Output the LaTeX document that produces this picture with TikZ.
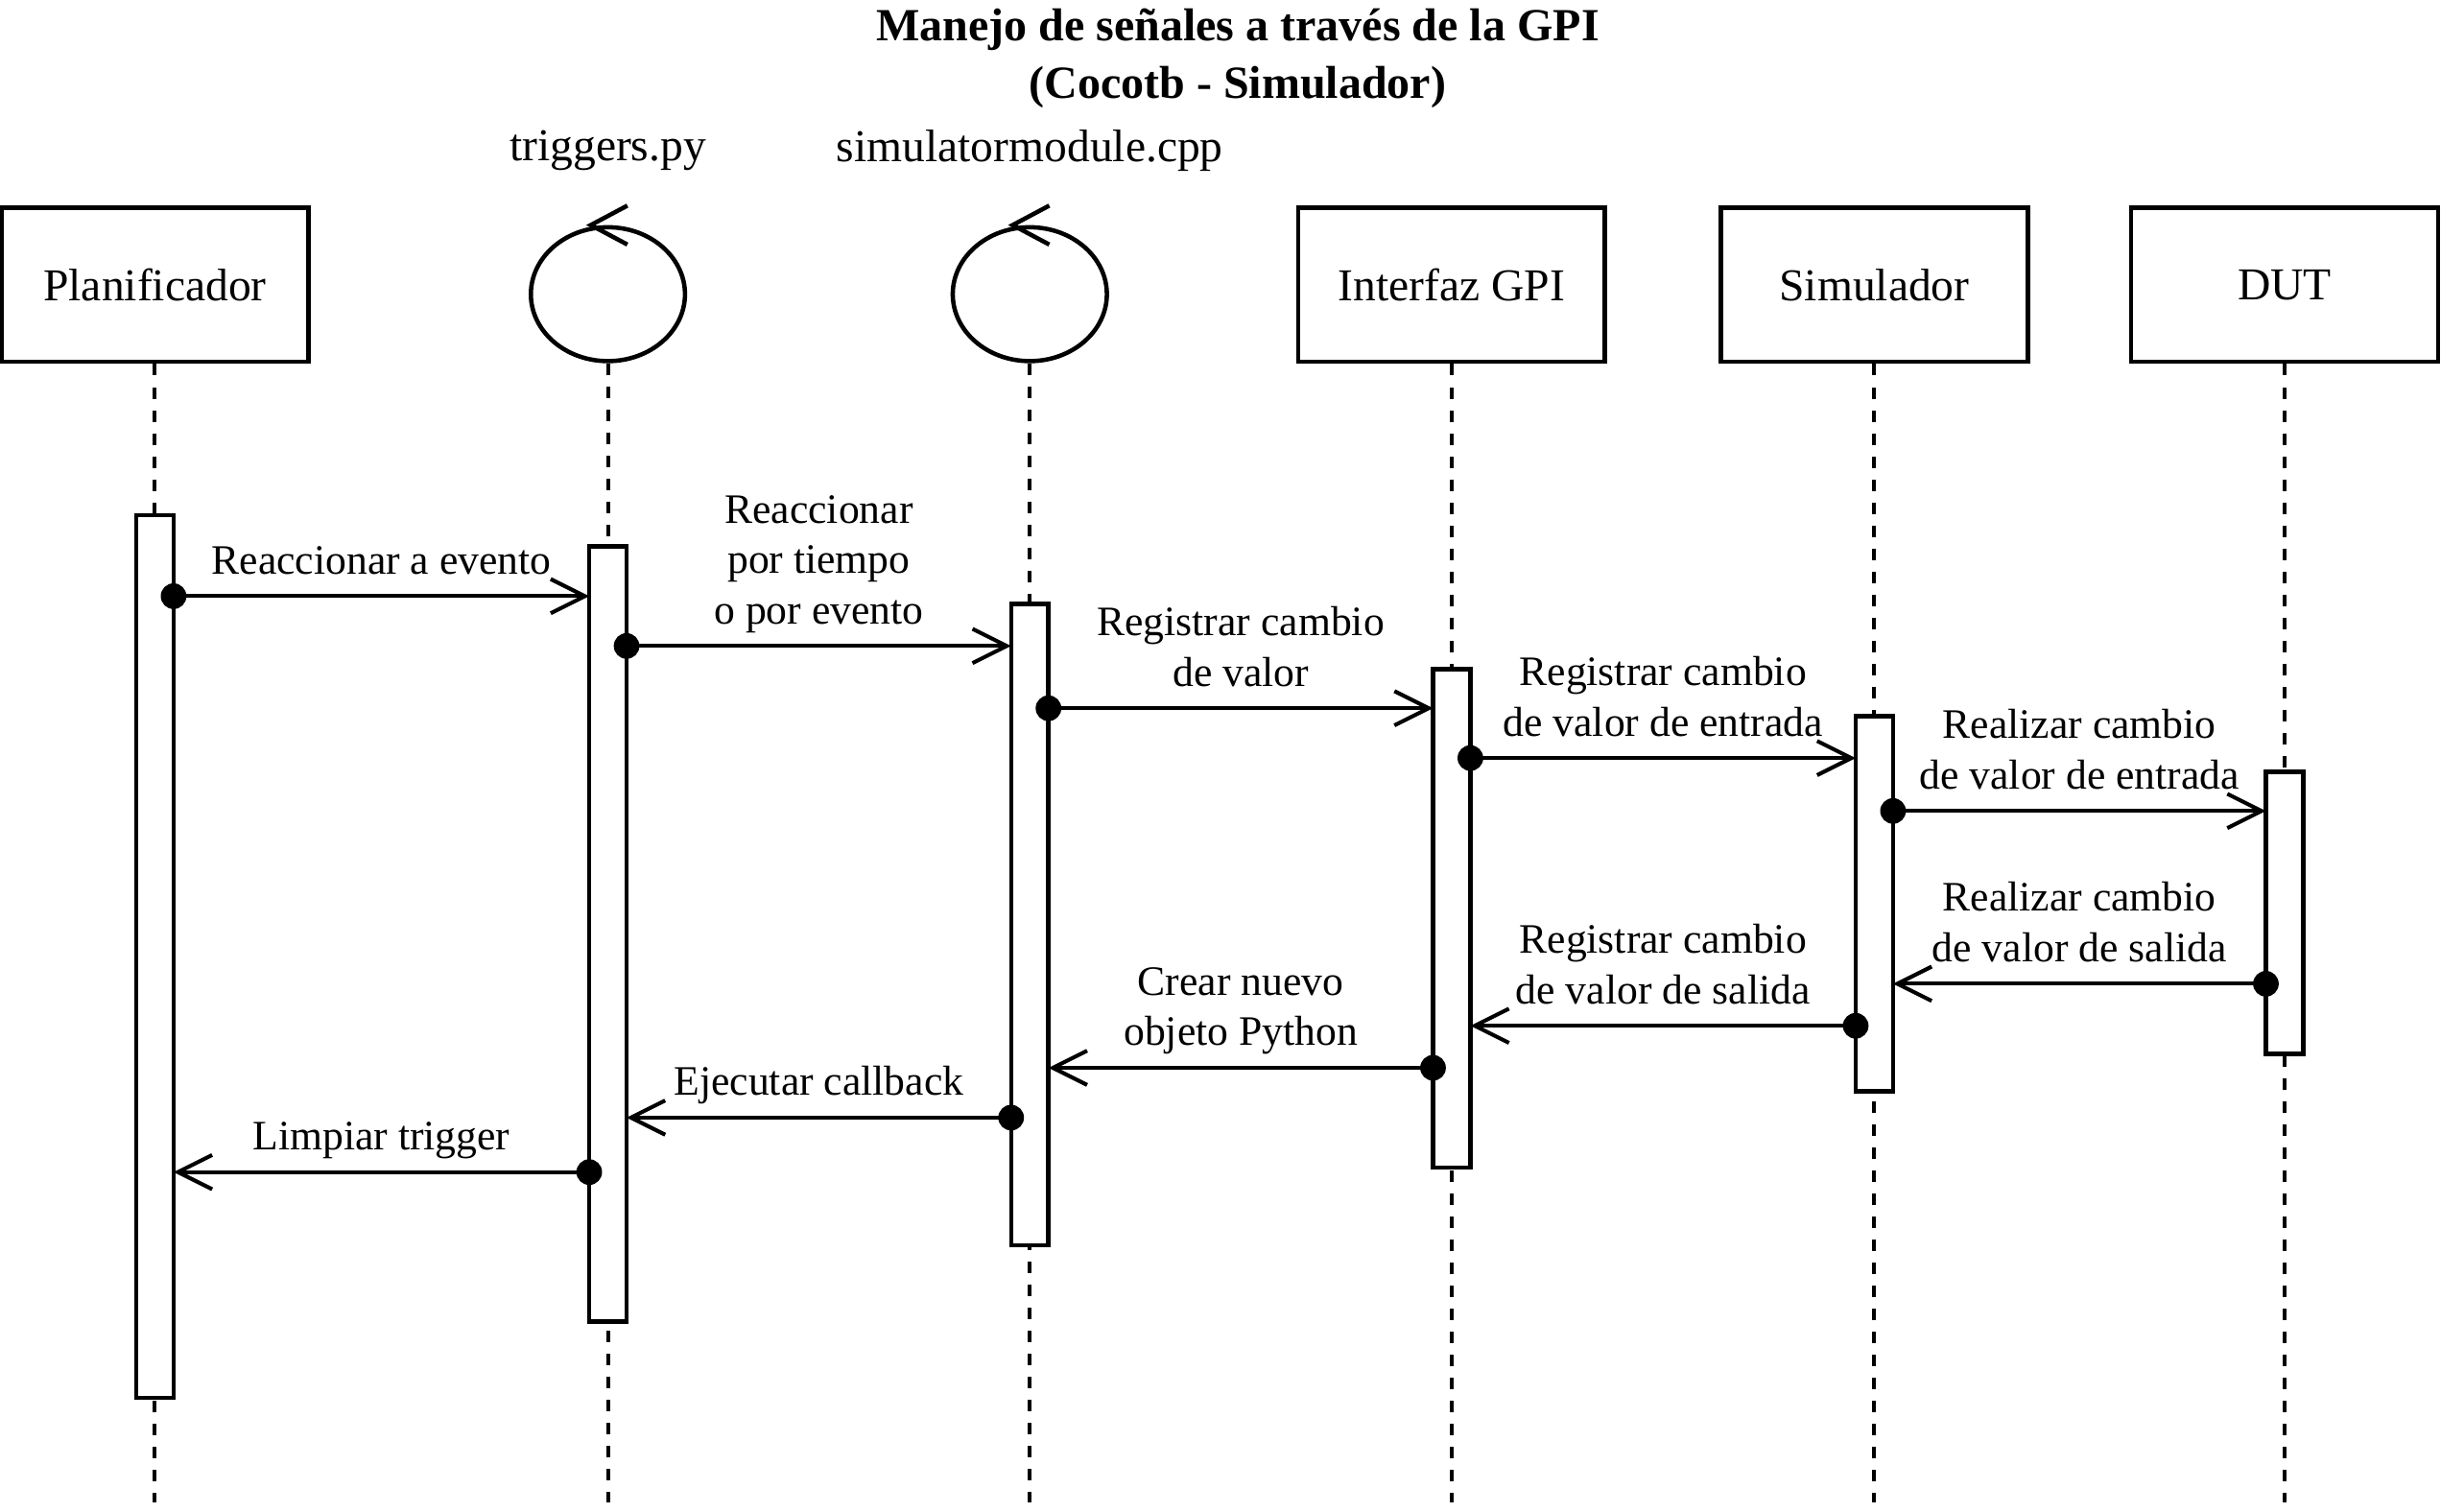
\documentclass[tikz,border=0pt]{standalone}
\usepackage{fontspec}
\setmainfont{Liberation Serif}
\usetikzlibrary{arrows.meta,shapes.geometric,positioning}

\tikzset{
  head/.style={draw, line width=2.8pt, minimum width=197pt, minimum height=99pt, font=\fontsize{29.3}{35}\selectfont},
  ctrl/.style={draw, ellipse, line width=2.8pt, minimum width=99pt, minimum height=86pt, inner sep=0pt},
  hdrtxt/.style={font=\fontsize{29.3}{35}\selectfont},
  life/.style={line width=2.5pt, dash pattern=on 7.4pt off 7.4pt},
  bar/.style={draw, fill=white, line width=2.8pt, minimum width=24pt, inner sep=0pt, outer sep=0pt},
  msg/.style={line width=2.5pt, -{Straight Barb[length=22pt,width=22pt]}},
  dot/.style={circle, fill, inner sep=0pt, minimum size=16.5pt},
  lbl/.style={midway, above=13pt, inner sep=0pt, text depth=0pt, align=center, font=\fontsize{26.9}{32.4}\selectfont},
}

\begin{document}
\begin{tikzpicture}[x=1pt,y=-1pt]
        \useasboundingbox (0,0) rectangle (1568,971);
        % Title
        \node[align=center, font=\bfseries\fontsize{29.6}{37}\selectfont] (title) at (795,37.5) {Manejo de señales a través de la GPI\\(Cocotb - Simulador)};
        % Lifeline heads
        \node[head] (plan) at (99.5,183) {Planificador};
        \node[ctrl] (trg) at (390.5,189) {};
        \node[ctrl] (simmod) at (661.5,189) {};
        \node[head] (gpi) at (932.5,183) {Interfaz GPI};
        \node[head] (sim) at (1204,183) {Simulador};
        \node[head] (dut) at (1467.5,183) {DUT};
        \node[hdrtxt] (trgname) at (390.5,97) {triggers.py};
        \node[hdrtxt] (simmodname) at (661.5,97) {simulatormodule.cpp};
        % Control arrows
        \foreach \c in {trg,simmod}
          \draw[line width=2.8pt] ([xshift=12.5pt,yshift=12.5pt]\c.north) -- ([xshift=-11pt]\c.north) -- ([xshift=12.5pt,yshift=-12.5pt]\c.north);
        % Lifelines
        \foreach \c in {plan,trg,simmod,gpi,sim,dut}
          \draw[life] (\c.south) -- (\c.south |- 0,965);
        % Activations
        \node[bar, minimum height=567pt] (planbar) at (plan |- 0,614.5) {};
        \node[bar, minimum height=498pt] (trgbar) at (trg |- 0,600) {};
        \node[bar, minimum height=412pt] (simmodbar) at (simmod |- 0,594) {};
        \node[bar, minimum height=320pt] (gpibar) at (gpi |- 0,590) {};
        \node[bar, minimum height=241pt] (simbar) at (sim |- 0,580.5) {};
        \node[bar, minimum height=181pt] (dutbar) at (dut |- 0,586.5) {};
        % Messages
        \draw[msg] (planbar.east |- 0,383) node[dot] {} -- node[lbl] {Reaccionar a evento} (trgbar.west |- 0,383);
        \draw[msg] (trgbar.east |- 0,415) node[dot] {} -- node[lbl] {Reaccionar\\por tiempo\\o por evento} (simmodbar.west |- 0,415);
        \draw[msg] (simmodbar.east |- 0,455) node[dot] {} -- node[lbl] {Registrar cambio\\de valor} (gpibar.west |- 0,455);
        \draw[msg] (gpibar.east |- 0,487) node[dot] {} -- node[lbl] {Registrar cambio\\de valor de entrada} (simbar.west |- 0,487);
        \draw[msg] (simbar.east |- 0,521) node[dot] {} -- node[lbl] {Realizar cambio\\de valor de entrada} (dutbar.west |- 0,521);
        \draw[msg] (dutbar.west |- 0,632) node[dot] {} -- node[lbl] {Realizar cambio\\de valor de salida} (simbar.east |- 0,632);
        \draw[msg] (simbar.west |- 0,659) node[dot] {} -- node[lbl] {Registrar cambio\\de valor de salida} (gpibar.east |- 0,659);
        \draw[msg] (gpibar.west |- 0,686) node[dot] {} -- node[lbl] {Crear nuevo\\objeto Python} (simmodbar.east |- 0,686);
        \draw[msg] (simmodbar.west |- 0,718) node[dot] {} -- node[lbl] {Ejecutar callback} (trgbar.east |- 0,718);
        \draw[msg] (trgbar.west |- 0,753) node[dot] {} -- node[lbl] {Limpiar trigger} (planbar.east |- 0,753);
\end{tikzpicture}
\end{document}
